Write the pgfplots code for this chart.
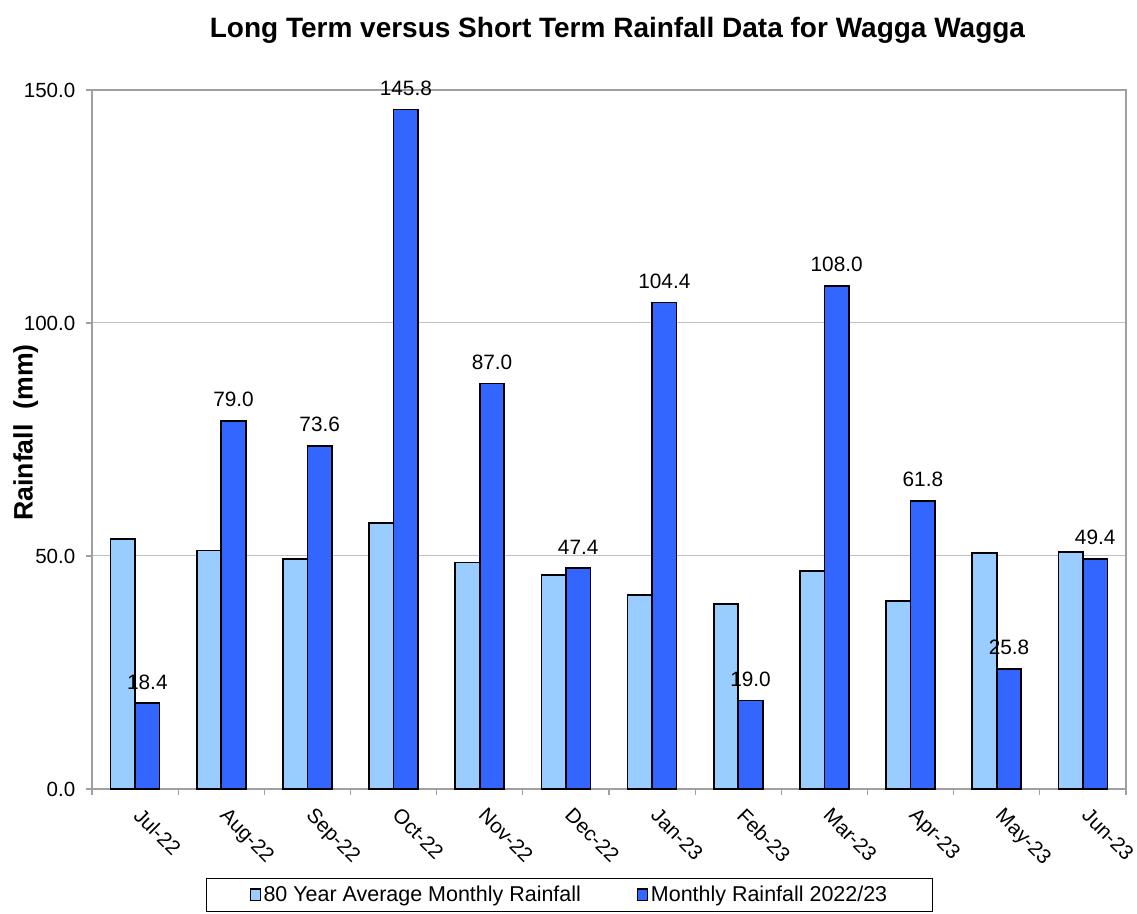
\documentclass[border=0pt]{standalone}
\usepackage{pgfplots}
\pgfplotsset{compat=1.18}
\usepackage{fontspec}
\setmainfont{Liberation Sans}
\usetikzlibrary{calc}
\definecolor{lightbar}{RGB}{153,204,255}
\definecolor{darkbar}{RGB}{51,102,255}
\definecolor{axisgray}{RGB}{160,160,160}
\definecolor{gridgray}{RGB}{192,192,192}
\begin{document}
\begin{tikzpicture}
\begin{axis}[
  scale only axis, width=775.5pt, height=524.25pt,
  ybar=0pt, bar width=18.4pt,
  xmin=-0.5, xmax=11.5, ymin=0, ymax=150,
  xtick={0,1,2,3,4,5,6,7,8,9,10,11},
  xticklabels={Jul-22,Aug-22,Sep-22,Oct-22,Nov-22,Dec-22,Jan-23,Feb-23,Mar-23,Apr-23,May-23,Jun-23},
  major x tick style={draw=none},
  minor xtick={-0.5,0.5,1.5,2.5,3.5,4.5,5.5,6.5,7.5,8.5,9.5,10.5,11.5},
  ytick={0,50,100,150},
  xtick pos=bottom, ytick pos=left,
  tick align=outside,
  major tick length=4.5pt, minor tick length=4.5pt,
  tick style={axisgray, line width=0.9pt},
  ymajorgrids, grid style={gridgray, line width=0.75pt},
  axis line style={axisgray, line width=1.5pt},
  /pgf/number format/assume math mode=true,
  yticklabel={\pgfmathprintnumber[fixed,fixed zerofill,precision=1]{\tick}},
  ticklabel style={font=\fontsize{15.4}{18}\selectfont},
  yticklabel style={xshift=-4.5pt},
  xticklabel style={rotate=-45, anchor=north west, xshift=7pt, yshift=1.5pt},
  ylabel={\textbf{Rainfall\ \ (mm)}},
  ylabel style={at={(axis description cs:-0.064,0.51)}, anchor=center, font=\fontsize{20}{23}\selectfont},
  title={\textbf{Long Term versus Short Term Rainfall Data for Wagga Wagga}},
  title style={at={(axis description cs:0.5,1)}, anchor=base, yshift=33pt, xshift=6.4pt, font=\fontsize{21}{25}\selectfont},
  legend style={at={(0.462,-0.127)}, anchor=north, legend columns=2, draw=black, line width=0.75pt,
    inner xsep=32pt, inner ysep=4pt,
    font=\fontsize{16.1}{19}\selectfont, /tikz/every even column/.append style={column sep=40pt}},
  nodes near coords style={font=\fontsize{15.6}{18}\selectfont, black, yshift=6.5pt},
]
\addplot[fill=lightbar, draw=black, line width=1.2pt,
  legend image code/.code={\draw[fill=lightbar, draw=black, line width=1pt] (0pt,-4pt) rectangle (7.5pt,4.5pt);}]
  coordinates {(0,53.6) (1,51.2) (2,49.3) (3,57.1) (4,48.6) (5,45.9) (6,41.6) (7,39.7) (8,46.8) (9,40.4) (10,50.6) (11,50.8)};
\addlegendentry{80 Year Average Monthly Rainfall}
\addplot[fill=darkbar, draw=black, line width=1.2pt,
  nodes near coords={\pgfmathprintnumber[fixed,fixed zerofill,precision=1]{\pgfplotspointmeta}},
  legend image code/.code={\draw[fill=darkbar, draw=black, line width=1pt] (0pt,-4pt) rectangle (7.5pt,4.5pt);}]
  coordinates {(0,18.4) (1,79.0) (2,73.6) (3,145.8) (4,87.0) (5,47.4) (6,104.4) (7,19.0) (8,108.0) (9,61.8) (10,25.8) (11,49.4)};
\addlegendentry{Monthly Rainfall 2022/23}
\end{axis}
\pgfresetboundingbox
\path[use as bounding box] ($(current axis.south west)+(-69pt,-93pt)$) rectangle ($(current axis.north east)+(8.25pt,67.5pt)$);
\end{tikzpicture}
\end{document}
